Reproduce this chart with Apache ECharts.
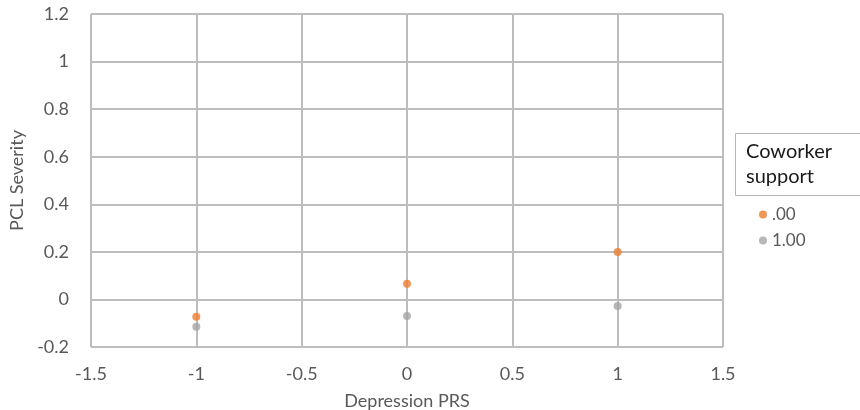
<!DOCTYPE html>
<html>
<head>
<meta charset="utf-8">
<script src="https://cdn.jsdelivr.net/npm/echarts@6/dist/echarts.min.js"></script>
<style>
  html, body { margin: 0; padding: 0; background: #ffffff; }
  #chart { width: 860px; height: 410px; }
</style>
</head>
<body>
<div id="chart"></div>
<script>
// Depression PRS levels (x) and predicted PCL severity for each coworker-support group
const prsLevels = [-1, 0, 1];
const supportLow = [-0.073, 0.066, 0.199];   // Coworker support = .00
const supportHigh = [-0.115, -0.070, -0.028]; // Coworker support = 1.00
const groupNames = ['.00', '1.00'];
const legendTitle = ['Coworker', 'support'];

const fontFamily = 'Lato, "Open Sans", sans-serif';
const axisText = { color: '#595959', fontSize: 18, fontFamily: fontFamily };
const nameText = { color: '#595959', fontSize: 18, fontFamily: fontFamily };
const gridLine = { color: '#bdbdbd', width: 2 };

const chart = echarts.init(document.getElementById('chart'), null, { renderer: 'canvas' });

chart.setOption({
  animation: false,
  grid: { left: 91, top: 14, width: 632, height: 333, outerBoundsMode: 'none', containLabel: false },
  xAxis: {
    type: 'value',
    min: -1.5, max: 1.5, interval: 0.5,
    name: 'Depression PRS',
    nameLocation: 'middle',
    nameGap: 45,
    nameTextStyle: nameText,
    axisLine: { show: false },
    axisTick: { show: false },
    axisLabel: Object.assign({ margin: 18 }, axisText),
    splitLine: { show: true, lineStyle: gridLine }
  },
  yAxis: {
    type: 'value',
    min: -0.2, max: 1.2, interval: 0.2,
    name: 'PCL Severity',
    nameLocation: 'middle',
    nameGap: 62,
    nameTextStyle: nameText,
    axisLine: { show: false },
    axisTick: { show: false },
    axisLabel: Object.assign({ margin: 22 }, axisText),
    splitLine: { show: true, lineStyle: gridLine }
  },
  legend: {
    orient: 'vertical',
    left: 754,
    top: 201,
    itemGap: 9,
    itemWidth: 8,
    itemHeight: 8,
    icon: 'circle',
    data: groupNames,
    textStyle: { color: '#595959', fontSize: 17, fontFamily: fontFamily }
  },
  graphic: [
    {
      type: 'rect',
      shape: { x: 735.5, y: 133.5, width: 140, height: 62 },
      style: { fill: '#ffffff', stroke: '#b5b5b5', lineWidth: 1 }
    },
    {
      type: 'text',
      x: 746, y: 139,
      style: {
        text: legendTitle.join('\n'),
        fill: '#1a1a1a',
        fontSize: 20,
        lineHeight: 25,
        fontFamily: fontFamily
      }
    }
  ],
  series: [
    {
      name: groupNames[0],
      type: 'scatter',
      symbolSize: 8,
      itemStyle: { color: '#ED7D31' },
      z: 3,
      data: prsLevels.map((x, i) => [x, supportLow[i]])
    },
    {
      name: groupNames[1],
      type: 'scatter',
      symbolSize: 8,
      itemStyle: { color: '#A5A5A5' },
      z: 3,
      data: prsLevels.map((x, i) => [x, supportHigh[i]])
    }
  ]
});
</script>
</body>
</html>
